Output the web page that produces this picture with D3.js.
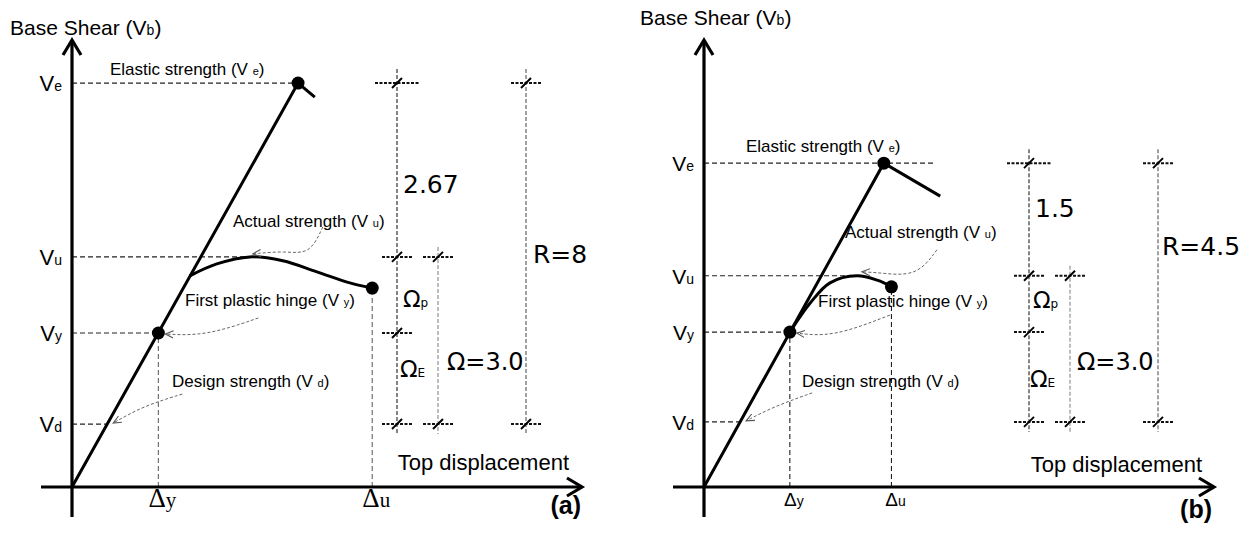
<!DOCTYPE html>
<html>
<head>
<meta charset="utf-8">
<script src="https://cdn.jsdelivr.net/npm/d3@7"></script>
<style>
body { margin: 0; background: #fff; }
text { font-family: "Liberation Sans", Arial, sans-serif; fill: #000; }
.num { font-family: "DejaVu Sans", Verdana, sans-serif; }
</style>
</head>
<body>
<script>
var W = 1255, H = 535;

// shear levels: Ve, Vu, Vy, Vd (arbitrary units 0-100)
var levelKeys = ["e", "u", "y", "d"];
var levelsA = [91.8, 52.3, 35.0, 14.3];
var levelsB = [73.6, 48.0, 35.2, 14.8];

// top displacement at first hinge (Δy) and ultimate (Δu)
var dispKeys = ["y", "u"];
var dispA = [17.0, 59.1];
var dispB = [16.9, 36.9];

// elastic branch: origin -> elastic strength -> short drop
var elasticA = [[0, 0], [44.5, 91.8], [47.8, 88.6]];
var elasticB = [[0, 0], [35.4, 73.6], [46.5, 66.1]];

// actual capacity curve
var actualA = [[23.2, 48.0], [28.5, 50.7], [35.0, 52.3], [41.5, 51.4], [48.2, 48.9], [54.7, 46.4], [59.1, 45.2]];
var actualB = [[16.9, 35.2], [20.9, 41.8], [24.8, 46.4], [30.1, 48.0], [34.1, 47.0], [36.9, 45.5]];

// factors written on the dimension lines
var overA = "2.67", omegaA = "3.0", rA = "8";
var overB = "1.5", omegaB = "3.0", rB = "4.5";

var svg = d3.select("body").append("svg")
    .attr("width", W).attr("height", H);

var defs = svg.append("defs");
defs.append("marker")
    .attr("id", "arr")
    .attr("viewBox", "0 -5 10 10")
    .attr("refX", 9).attr("refY", 0)
    .attr("markerWidth", 9).attr("markerHeight", 9)
    .attr("markerUnits", "userSpaceOnUse")
    .attr("orient", "auto")
  .append("path")
    .attr("d", "M0,-4L9,0L0,4")
    .attr("fill", "none")
    .attr("stroke", "#555")
    .attr("stroke-width", 1.2);

var panels = [
  {
    ox: 72, oy: 487, levels: levelsA, disp: dispA, elastic: elasticA, actual: actualA,
    over: overA, omega: omegaA, r: rA, veExt: 0, tag: "(a)",
    title: [10, 35], vFont: 22,
    elasticLbl: [110, 75], actualLbl: [233, 227], hingeLbl: [185, 306], designLbl: [172, 387],
    overLbl: [403, 193], omegaLbl: [447, 370], rLbl: [533, 263], opLbl: [403, 307], oeLbl: [400, 377],
    topLbl: [569, 470], deltaY: 507, serifDelta: true, tagPos: [581, 514],
    leadU: [[73, -30], [60, -2], [35, -6], [3, -3]],
    leadY: [[100, -15], [47, 3], [7, 1]],
    leadD: [[75, -30], [36, -18], [6, -1]]
  },
  {
    ox: 704, oy: 487, levels: levelsB, disp: dispB, elastic: elasticB, actual: actualB,
    over: overB, omega: omegaB, r: rB, veExt: 52, tag: "(b)",
    title: [640, 25], vFont: 21,
    elasticLbl: [746, 152], actualLbl: [845, 238], hingeLbl: [818, 307], designLbl: [802, 387],
    overLbl: [1035, 217], omegaLbl: [1077, 370], rLbl: [1162, 255], opLbl: [1033, 308], oeLbl: [1030, 387],
    topLbl: [1202, 472], deltaY: 506, serifDelta: false, tagPos: [1212, 518],
    leadU: [[80, -26], [60, 1], [23, -3], [5, -4]],
    leadY: [[100, -17], [43, 5], [7, 1]],
    leadD: [[72, -29], [33, -15], [6, -1]]
  }
];

// dimension line offsets from the origin (px)
var dimOffsets = [325, 366, 454];

panels.forEach(function(p) {
  var g = svg.append("g");
  var x = d3.scaleLinear().domain([0, 100]).range([p.ox, p.ox + 508]);
  var y = d3.scaleLinear().domain([0, 100]).range([p.oy, p.oy - 440]);

  var Ve = p.levels[0], Vu = p.levels[1], Vy = p.levels[2], Vd = p.levels[3];
  var slope = p.elastic[1][1] / p.elastic[1][0];
  var peak = p.actual.reduce(function(a, b) { return b[1] > a[1] ? b : a; });
  var endPt = p.actual[p.actual.length - 1];

  // horizontal dashed level lines
  var levelEnds = [x(p.elastic[1][0]) + p.veExt, x(peak[0]), x(p.disp[0]), x(Vd / slope)];
  g.selectAll(".lvl").data(p.levels).enter().append("line")
      .attr("x1", p.ox).attr("x2", function(d, i) { return levelEnds[i]; })
      .attr("y1", function(d) { return y(d); }).attr("y2", function(d) { return y(d); })
      .attr("stroke", "#222").attr("stroke-width", 1.1).attr("stroke-dasharray", "5,3");

  // vertical dashed at Δy and Δu
  var dispTops = [y(Vy), y(endPt[1])];
  g.selectAll(".dsp").data(p.disp).enter().append("line")
      .attr("x1", function(d) { return x(d); }).attr("x2", function(d) { return x(d); })
      .attr("y1", p.oy).attr("y2", function(d, i) { return dispTops[i]; })
      .attr("stroke", p.serifDelta ? "#666" : "#222").attr("stroke-width", 1.1).attr("stroke-dasharray", "5,3");

  // dimension lines with ticks
  var dx = dimOffsets.map(function(o) { return p.ox + o; });
  var dims = [
    { x: dx[0], top: y(Ve) - 14, ticks: [Ve, Vu, Vy, Vd], col: "#222" },
    { x: dx[1], top: y(Vu) - 10, ticks: [Vu, Vd], col: "#888" },
    { x: dx[2], top: y(Ve) - 14, ticks: [Ve, Vd], col: "#555" }
  ];
  dims.forEach(function(dm) {
    g.append("line")
        .attr("x1", dm.x).attr("x2", dm.x).attr("y1", dm.top).attr("y2", y(Vd) + 10)
        .attr("stroke", dm.col).attr("stroke-width", 1.1).attr("stroke-dasharray", "4,2");
    dm.ticks.forEach(function(t) {
      var w = (t === Ve && dm.x === dx[0]) ? 22 : 15;
      g.append("line")
          .attr("x1", dm.x - w).attr("x2", dm.x + w).attr("y1", y(t)).attr("y2", y(t))
          .attr("stroke", "#111").attr("stroke-width", 2).attr("stroke-dasharray", "3,1.5");
      g.append("line")
          .attr("x1", dm.x - 5).attr("x2", dm.x + 5).attr("y1", y(t) + 5).attr("y2", y(t) - 5)
          .attr("stroke", "#000").attr("stroke-width", 2);
    });
  });

  // axes
  g.append("line").attr("x1", p.ox).attr("x2", p.ox).attr("y1", p.oy + 30).attr("y2", 40)
      .attr("stroke", "#000").attr("stroke-width", 3.2);
  g.append("path").attr("d", "M" + (p.ox - 9) + ",55L" + p.ox + ",40L" + (p.ox + 9) + ",55")
      .attr("fill", "none").attr("stroke", "#000").attr("stroke-width", 3.2);
  var xe = p.ox + 510;
  g.append("line").attr("x1", p.ox - 31).attr("x2", xe).attr("y1", p.oy).attr("y2", p.oy)
      .attr("stroke", "#000").attr("stroke-width", 3.2);
  g.append("path").attr("d", "M" + (xe - 15) + "," + (p.oy - 9) + "L" + xe + "," + p.oy + "L" + (xe - 15) + "," + (p.oy + 9))
      .attr("fill", "none").attr("stroke", "#000").attr("stroke-width", 3.2);

  // curves
  var line = d3.line().x(function(d) { return x(d[0]); }).y(function(d) { return y(d[1]); });
  g.append("path").attr("d", line(p.elastic))
      .attr("fill", "none").attr("stroke", "#000").attr("stroke-width", 3);
  g.append("path").attr("d", line.curve(d3.curveCatmullRom)(p.actual))
      .attr("fill", "none").attr("stroke", "#000").attr("stroke-width", 3);

  var dots = [p.elastic[1], [p.disp[0], Vy], endPt];
  g.selectAll(".dot").data(dots).enter().append("circle")
      .attr("cx", function(d) { return x(d[0]); }).attr("cy", function(d) { return y(d[1]); })
      .attr("r", 6.5).attr("fill", "#000");

  // leader lines
  var leader = d3.line().curve(d3.curveBasis);
  function lead(tx, ty, offs) {
    var pts = offs.map(function(o) { return [tx + o[0], ty + o[1]]; });
    g.append("path").attr("d", leader(pts))
        .attr("fill", "none").attr("stroke", "#666").attr("stroke-width", 1)
        .attr("stroke-dasharray", "3,2").attr("marker-end", "url(#arr)");
  }
  lead(x(peak[0]), y(peak[1]), p.leadU);
  lead(x(p.disp[0]), y(Vy), p.leadY);
  lead(x(Vd / slope), y(Vd), p.leadD);

  // level labels on the left
  g.selectAll(".vl").data(p.levels).enter().append("text")
      .attr("x", p.ox - 10).attr("y", function(d) { return y(d) + 8; })
      .attr("text-anchor", "end")
      .style("font-size", p.vFont + "px")
      .each(function(d, i) {
        var t = d3.select(this);
        t.append("tspan").text("V");
        t.append("tspan").style("font-size", "14px").text(levelKeys[i]);
      });

  // Δ labels
  g.selectAll(".dl").data(p.disp).enter().append("text")
      .attr("x", function(d) { return x(d) + 4; }).attr("y", p.deltaY)
      .attr("text-anchor", "middle")
      .style("font-family", p.serifDelta ? "'Liberation Serif', 'Times New Roman', serif" : null)
      .style("font-size", p.serifDelta ? "27px" : "19px")
      .each(function(d, i) {
        var t = d3.select(this);
        t.append("tspan").text("Δ");
        t.append("tspan").style("font-size", p.serifDelta ? "21px" : "14px").text(dispKeys[i]);
      });

  function sub(pos, main, s, size, subSize, cls) {
    var t = g.append("text").attr("x", pos[0]).attr("y", pos[1]).style("font-size", size + "px");
    if (cls) t.attr("class", cls);
    t.append("tspan").text(main);
    t.append("tspan").style("font-size", subSize + "px").text(s);
    return t;
  }

  sub(p.title, "Base Shear (V", "b", 21, 14).append("tspan").text(")");
  sub(p.elasticLbl, "Elastic strength  (V ", "e", 17, 11).append("tspan").text(")");
  sub(p.actualLbl, "Actual strength (V ", "u", 17, 11).append("tspan").text(")");
  sub(p.hingeLbl, "First plastic hinge (V ", "y", 17, 11).append("tspan").text(")");
  sub(p.designLbl, "Design strength (V ", "d", 17, 11).append("tspan").text(")");

  g.append("text").attr("class", "num").attr("x", p.overLbl[0]).attr("y", p.overLbl[1])
      .style("font-size", "25px").text(p.over);
  g.append("text").attr("class", "num").attr("x", p.omegaLbl[0]).attr("y", p.omegaLbl[1])
      .style("font-size", "24px").text("Ω=" + p.omega);
  g.append("text").attr("class", "num").attr("x", p.rLbl[0]).attr("y", p.rLbl[1])
      .style("font-size", "25px").text("R=" + p.r);
  sub(p.opLbl, "Ω", "p", 23, 12, "num");
  sub(p.oeLbl, "Ω", "E", 23, 12, "num");

  g.append("text").attr("x", p.topLbl[0]).attr("y", p.topLbl[1])
      .attr("text-anchor", "end").style("font-size", "22px").text("Top displacement");
  g.append("text").attr("x", p.tagPos[0]).attr("y", p.tagPos[1])
      .attr("text-anchor", "end").style("font-size", "25px").style("font-weight", "bold").text(p.tag);
});
</script>
</body>
</html>
